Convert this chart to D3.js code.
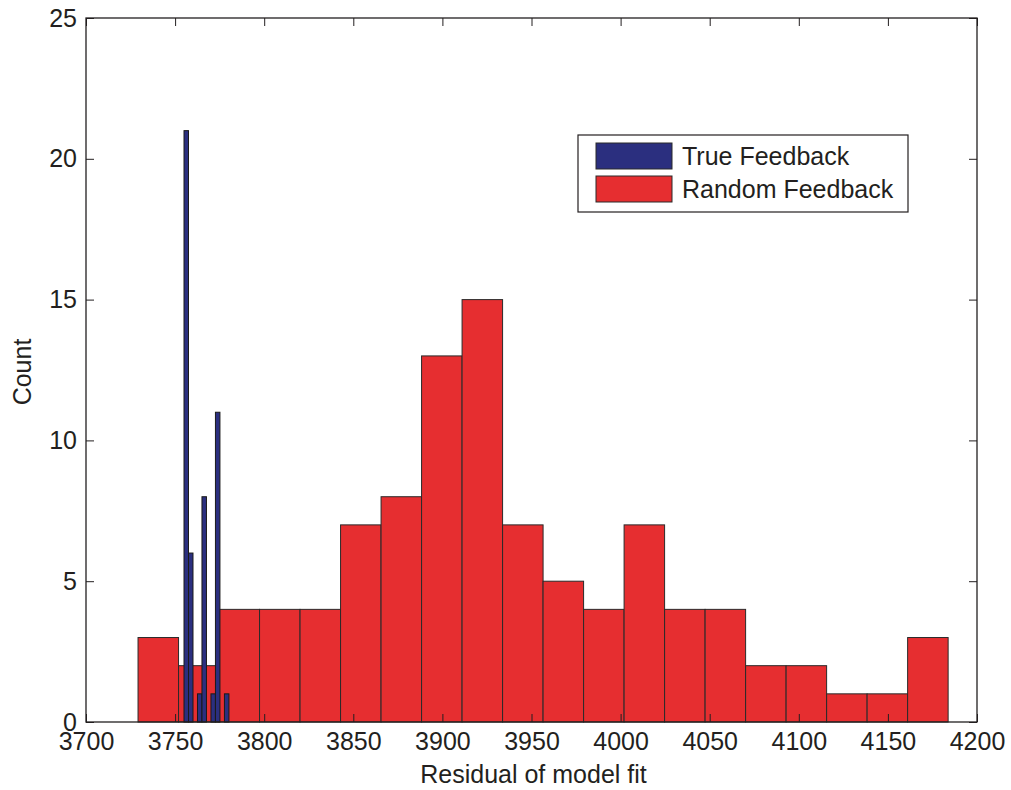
<!DOCTYPE html>
<html><head><meta charset="utf-8">
<script src="https://cdn.jsdelivr.net/npm/d3@7"></script>
<style>body{margin:0;background:#fff;} text{font-family:"Liberation Sans",Arial,sans-serif;fill:#231f20;}</style>
</head><body>
<svg id="c" width="1011" height="790"></svg>
<script>
// Data
const redStart = 3729.2, redWidth = 22.73;
const redCounts = [3,2,4,4,4,7,8,13,15,7,5,4,7,4,4,2,2,1,1,3];
const blueStart = 3755.0, blueWidth = 2.52;
const blueCounts = [21,6,0,1,8,0,1,11,0,1];
const xTicks = [3700,3750,3800,3850,3900,3950,4000,4050,4100,4150,4200];
const yTicks = [0,5,10,15,20,25];
const seriesNames = ["True Feedback","Random Feedback"];
const colors = ["#2b2f7f","#e62e30"];

const svg = d3.select("#c");
const m = {l:86, r:977, t:18, b:722};
const x = d3.scaleLinear().domain([3700,4200]).range([m.l,m.r]);
const y = d3.scaleLinear().domain([0,25]).range([m.b,m.t]);

const redBins = redCounts.map((c,i)=>({x0:redStart+i*redWidth,x1:redStart+(i+1)*redWidth,c}));
const blueBins = blueCounts.map((c,i)=>({x0:blueStart+i*blueWidth,x1:blueStart+(i+1)*blueWidth,c}));

svg.append("g").selectAll("rect").data(redBins.filter(d=>d.c>0)).join("rect")
  .attr("x",d=>x(d.x0)).attr("width",d=>x(d.x1)-x(d.x0))
  .attr("y",d=>y(d.c)).attr("height",d=>y(0)-y(d.c))
  .attr("fill",colors[1]).attr("stroke","#2a2a2a").attr("stroke-width",1);
svg.append("g").selectAll("rect").data(blueBins.filter(d=>d.c>0)).join("rect")
  .attr("x",d=>x(d.x0)).attr("width",d=>x(d.x1)-x(d.x0))
  .attr("y",d=>y(d.c)).attr("height",d=>y(0)-y(d.c))
  .attr("fill",colors[0]).attr("stroke","#1a1a1a").attr("stroke-width",1);

// Axes (MATLAB box style, inward ticks)
const fs = 25;
const fmt = d3.format("d");
const ax = svg.append("g").attr("transform",`translate(0,${m.b})`)
  .call(d3.axisBottom(x).tickValues(xTicks).tickSizeInner(-8).tickSizeOuter(0).tickPadding(10).tickFormat(fmt));
const axT = svg.append("g").attr("transform",`translate(0,${m.t})`)
  .call(d3.axisTop(x).tickValues(xTicks).tickSizeInner(-8).tickSizeOuter(0).tickFormat(""));
const ay = svg.append("g").attr("transform",`translate(${m.l},0)`)
  .call(d3.axisLeft(y).tickValues(yTicks).tickSizeInner(-8).tickSizeOuter(0).tickPadding(9).tickFormat(fmt));
const ayR = svg.append("g").attr("transform",`translate(${m.r},0)`)
  .call(d3.axisRight(y).tickValues(yTicks).tickSizeInner(-8).tickSizeOuter(0).tickFormat(""));
[ax,axT,ay,ayR].forEach(g=>{
  g.select(".domain").remove();
  g.selectAll("line").attr("stroke","#231f20").attr("stroke-width",1);
  g.selectAll("text").attr("font-size",fs).attr("font-family","Liberation Sans, Arial, sans-serif").attr("fill","#231f20");
});
svg.append("rect").attr("x",m.l).attr("y",m.t).attr("width",m.r-m.l).attr("height",m.b-m.t)
  .attr("fill","none").attr("stroke","#231f20").attr("stroke-width",1.3);

svg.append("text").attr("x",(m.l+m.r)/2+2).attr("y",783).attr("text-anchor","middle")
  .attr("font-size",fs).text("Residual of model fit");
svg.append("text").attr("transform",`translate(31,${(m.t+m.b)/2+2}) rotate(-90)`).attr("text-anchor","middle")
  .attr("font-size",fs).text("Count");

// Legend
const lg = svg.append("g");
lg.append("rect").attr("x",578).attr("y",135).attr("width",330).attr("height",77)
  .attr("fill","#fff").attr("stroke","#231f20").attr("stroke-width",1.2);
seriesNames.forEach((n,i)=>{
  lg.append("rect").attr("x",596).attr("y",143+i*33).attr("width",76).attr("height",26)
    .attr("fill",colors[i]).attr("stroke","#2a2a2a").attr("stroke-width",1);
  lg.append("text").attr("x",682).attr("y",165+i*33).attr("font-size",fs).text(n);
});
</script>
</body></html>
